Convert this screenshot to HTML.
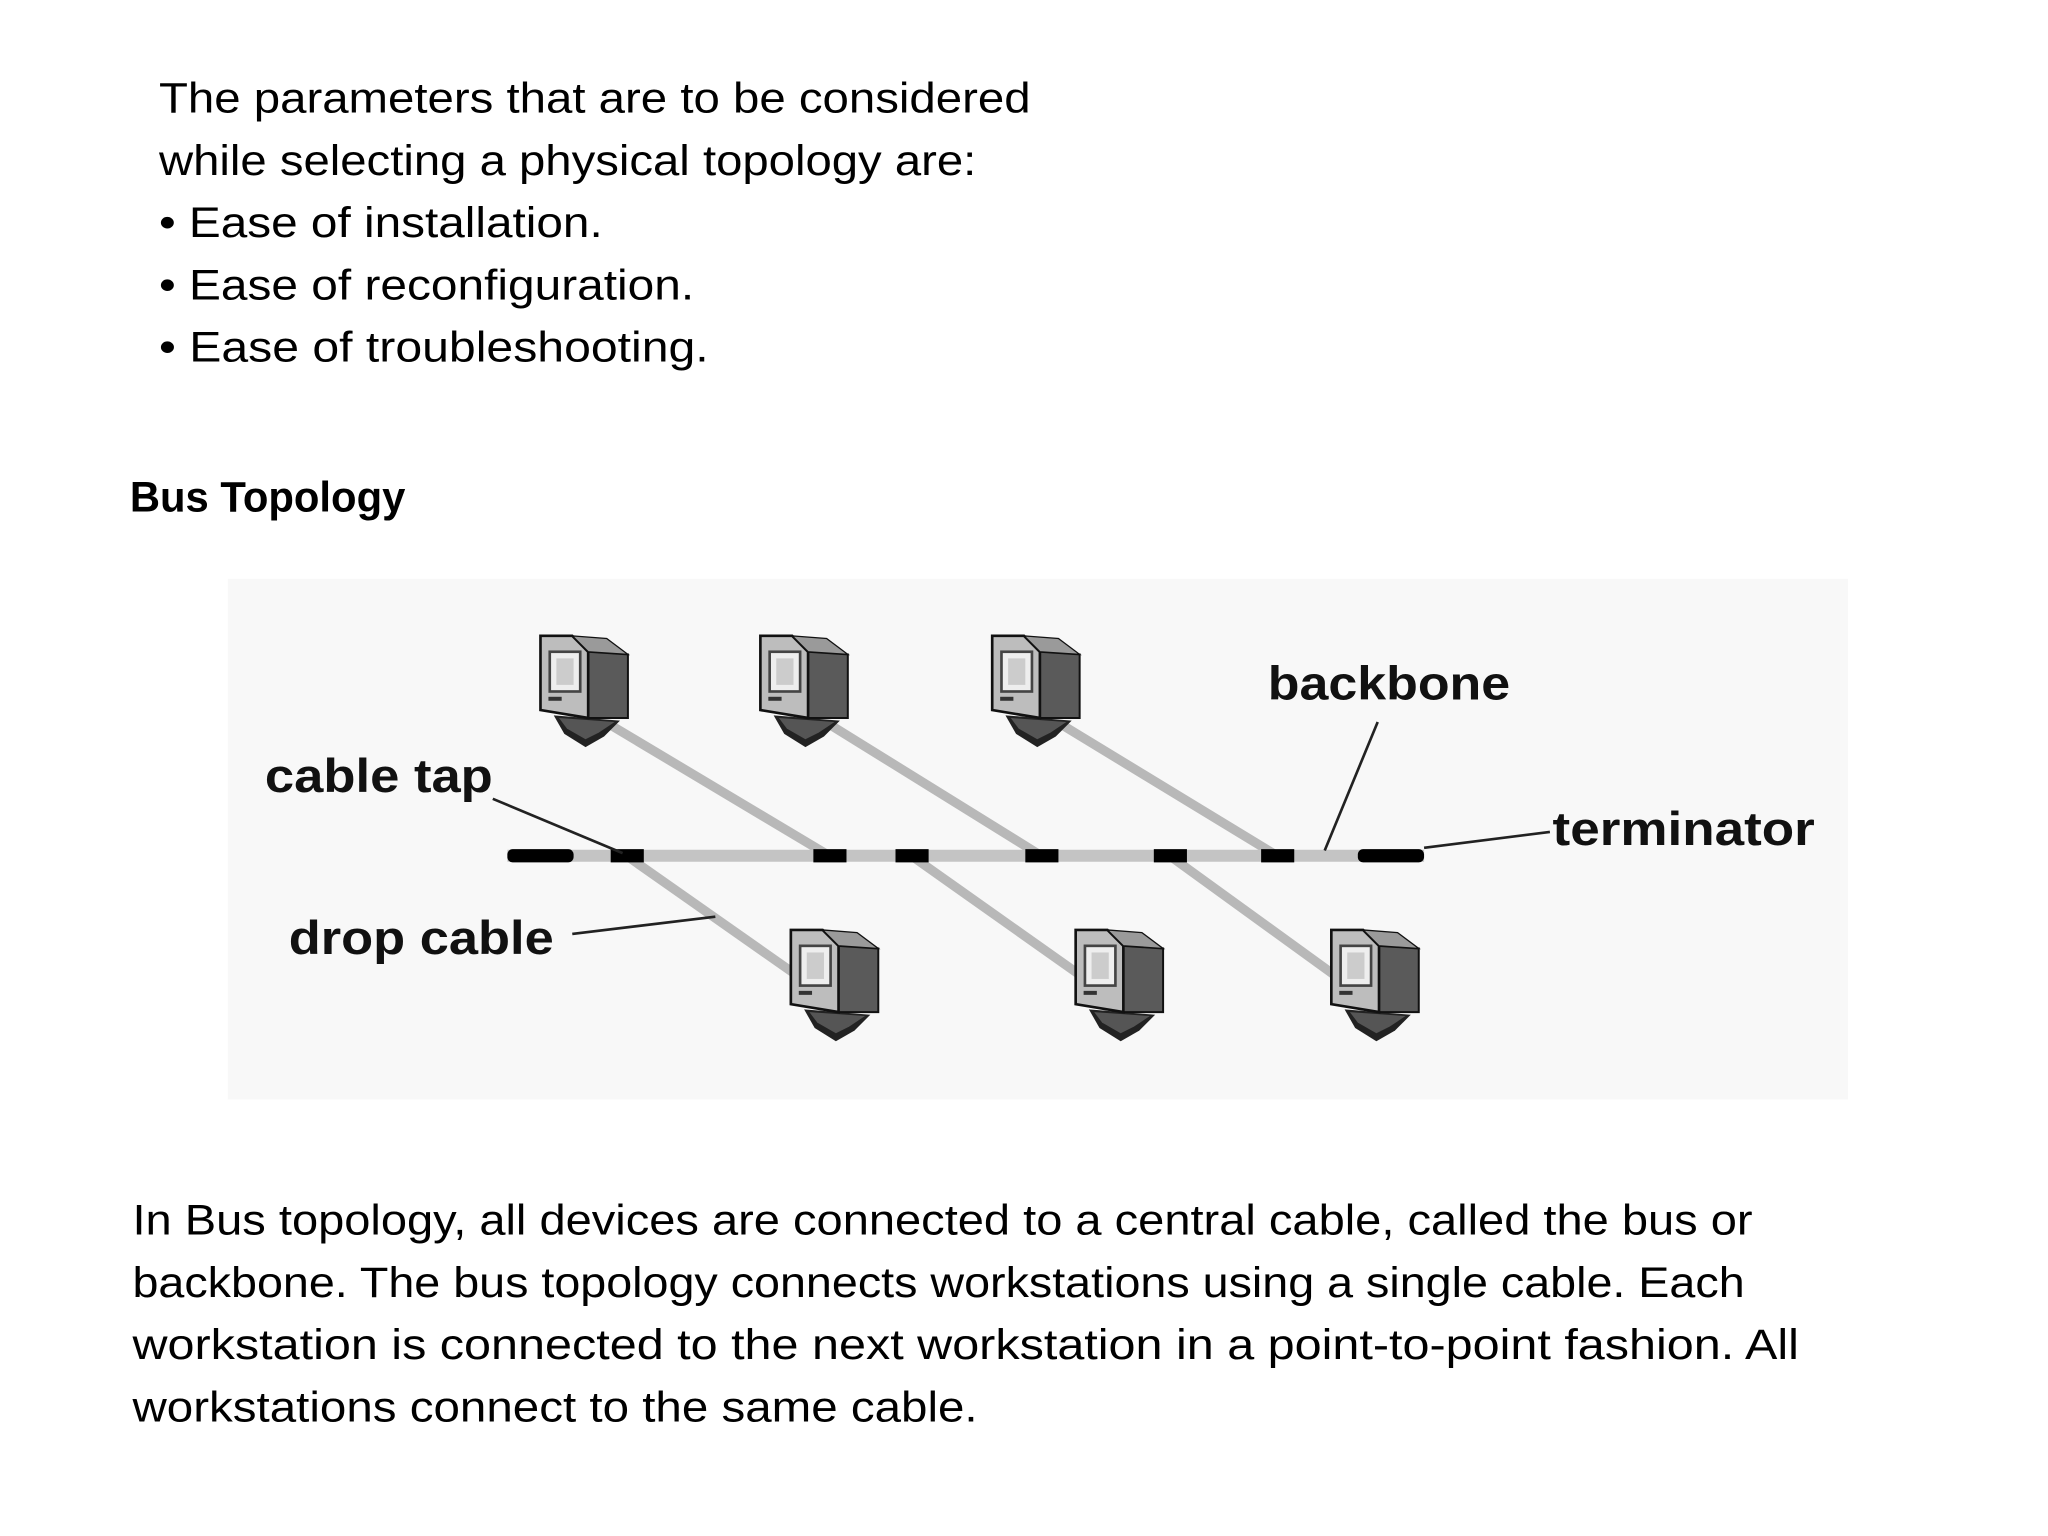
<!DOCTYPE html>
<html><head><meta charset="utf-8"><style>
html,body{margin:0;padding:0;background:#fff;}
svg{display:block;}
</style></head><body>
<svg width="2048" height="1536" viewBox="0 0 1546 1159.5" xmlns="http://www.w3.org/2000/svg">
<rect width="1546" height="1160" fill="#fff"/>
<g font-family="Liberation Sans, Arial, sans-serif" font-size="32" fill="#000">
<text x="120" y="85" textLength="658" lengthAdjust="spacingAndGlyphs">The parameters that are to be considered</text>
<text x="120" y="132" textLength="617" lengthAdjust="spacingAndGlyphs">while selecting a physical topology are:</text>
<text x="120" y="179" textLength="335" lengthAdjust="spacingAndGlyphs">• Ease of installation.</text>
<text x="120" y="226" textLength="404" lengthAdjust="spacingAndGlyphs">• Ease of reconfiguration.</text>
<text x="120" y="273" textLength="415" lengthAdjust="spacingAndGlyphs">• Ease of troubleshooting.</text>
<text x="98" y="386" font-weight="bold" textLength="208" lengthAdjust="spacingAndGlyphs">Bus Topology</text>
<text x="100" y="932" textLength="1223" lengthAdjust="spacingAndGlyphs">In Bus topology, all devices are connected to a central cable, called the bus or</text>
<text x="100" y="979" textLength="1217" lengthAdjust="spacingAndGlyphs">backbone. The bus topology connects workstations using a single cable. Each</text>
<text x="100" y="1026" textLength="1258" lengthAdjust="spacingAndGlyphs">workstation is connected to the next workstation in a point-to-point fashion. All</text>
<text x="100" y="1073" textLength="638" lengthAdjust="spacingAndGlyphs">workstations connect to the same cable.</text>
</g>
<rect x="172" y="437" width="1223" height="393" fill="#f8f8f8"/>
<defs>
<g id="pc">
<polygon points="10,60 60,64 48,76 34,84 18,74" fill="#222"/>
<polygon points="14,62 56,65 44,73 34,78 20,70" fill="#555"/>
<polygon points="36,12 66,14 66,62 36,62" fill="#5a5a5a" stroke="#111" stroke-width="1.5"/>
<polygon points="0,0 24,0 36,12 36,62 0,56" fill="#bdbdbd" stroke="#111" stroke-width="2"/>
<polygon points="24,0 36,12 66,14 50,2" fill="#9a9a9a" stroke="#111" stroke-width="1"/>
<rect x="7" y="12" width="23" height="30" fill="#eee" stroke="#444" stroke-width="2"/>
<rect x="12" y="17" width="13" height="20" fill="#ccc"/>
<rect x="6" y="46" width="10" height="3" fill="#333"/>
</g>
</defs>
<g stroke="#b8b8b8" stroke-width="7" stroke-linecap="butt">
<line x1="462" y1="548" x2="626" y2="646"/>
<line x1="628" y1="548" x2="786" y2="646"/>
<line x1="803" y1="548" x2="964" y2="646"/>
<line x1="473" y1="646" x2="604" y2="738"/>
<line x1="688" y1="646" x2="818" y2="738"/>
<line x1="883" y1="646" x2="1010" y2="738"/>
</g>
<line x1="383" y1="646" x2="1075" y2="646" stroke="#c4c4c4" stroke-width="9"/>
<g fill="#000">
<rect x="383" y="641" width="50" height="10" rx="4"/>
<rect x="1025" y="641" width="50" height="10" rx="4"/>
<rect x="461" y="641" width="25" height="10"/>
<rect x="614" y="641" width="25" height="10"/>
<rect x="676" y="641" width="25" height="10"/>
<rect x="774" y="641" width="25" height="10"/>
<rect x="871" y="641" width="25" height="10"/>
<rect x="952" y="641" width="25" height="10"/>
</g>
<use href="#pc" x="408" y="480"/>
<use href="#pc" x="574" y="480"/>
<use href="#pc" x="749" y="480"/>
<use href="#pc" x="597" y="702"/>
<use href="#pc" x="812" y="702"/>
<use href="#pc" x="1005" y="702"/>
<g stroke="#222" stroke-width="2">
<line x1="372" y1="603" x2="470" y2="644"/>
<line x1="1040" y1="545" x2="1000" y2="642"/>
<line x1="1075" y1="640" x2="1170" y2="628"/>
<line x1="432" y1="705" x2="540" y2="692"/>
</g>
<g font-family="Liberation Sans, Arial, sans-serif" font-size="36" font-weight="bold" fill="#111">
<text x="957" y="528" textLength="183" lengthAdjust="spacingAndGlyphs">backbone</text>
<text x="200" y="598" textLength="172" lengthAdjust="spacingAndGlyphs">cable tap</text>
<text x="218" y="720" textLength="200" lengthAdjust="spacingAndGlyphs">drop cable</text>
<text x="1172" y="638" textLength="198" lengthAdjust="spacingAndGlyphs">terminator</text>
</g>
</svg>
</body></html>
